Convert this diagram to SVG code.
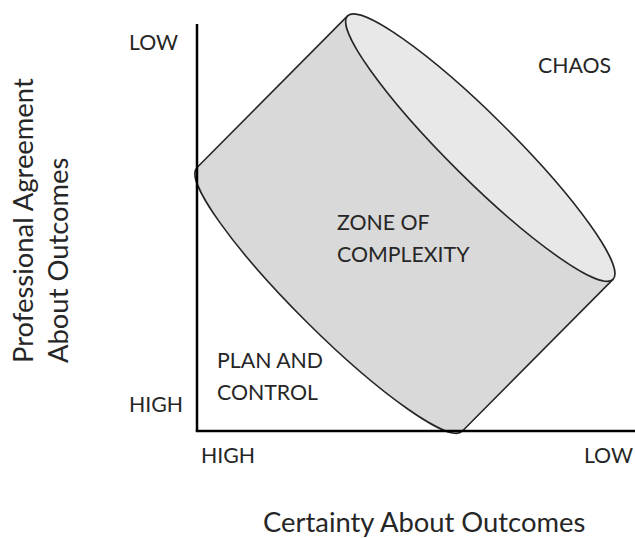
<svg xmlns="http://www.w3.org/2000/svg" width="635" height="538" viewBox="0 0 635 538">
  <style>
    .label { font-family: Lato, "Liberation Sans", sans-serif; font-size: 21.3px; fill: #262626; }
    .title { font-family: Lato, "Liberation Sans", sans-serif; font-size: 27.4px; fill: #262626; }
    .axis { stroke: #000; stroke-width: 2.5; fill: none; }
    .edge { stroke: #262626; stroke-width: 1.6; stroke-linejoin: round; }
  </style>
  <rect width="635" height="538" fill="#fff"/>

  <!-- tilted cylinder: bottom-centre at origin, axis rotated ~45 degrees -->
  <g id="zone-of-complexity" transform="translate(329.5,299.5) rotate(44.8)">
    <path class="edge" fill="#d9d9d9" d="M -187,-214 L -187,0 A 187,32 0 0 0 187,0 L 187,-214 Z"/>
    <ellipse class="edge" fill="#e8e8e8" cx="0" cy="-214" rx="187" ry="32"/>
  </g>

  <!-- axes -->
  <g id="axes">
    <line class="axis" x1="197" y1="24" x2="197" y2="431"/>
    <line class="axis" x1="195.75" y1="431" x2="635" y2="431"/>
  </g>

  <g id="region-labels">
    <text class="label" x="538" y="72.5">CHAOS</text>
    <text class="label"><tspan x="337" y="230">ZONE OF</tspan><tspan x="337" y="262">COMPLEXITY</tspan></text>
    <text class="label"><tspan x="217" y="368">PLAN AND</tspan><tspan x="217" y="400">CONTROL</tspan></text>
  </g>

  <g id="tick-labels">
    <text class="label" x="129" y="50">LOW</text>
    <text class="label" x="129" y="412">HIGH</text>
    <text class="label" x="201" y="463">HIGH</text>
    <text class="label" x="633" y="463" text-anchor="end">LOW</text>
  </g>

  <g id="axis-titles">
    <text class="title" x="263" y="532">Certainty About Outcomes</text>
    <text class="title" transform="translate(33,363) rotate(-90)"><tspan x="0" y="0">Professional Agreement</tspan><tspan x="0" y="35">About Outcomes</tspan></text>
  </g>
</svg>
